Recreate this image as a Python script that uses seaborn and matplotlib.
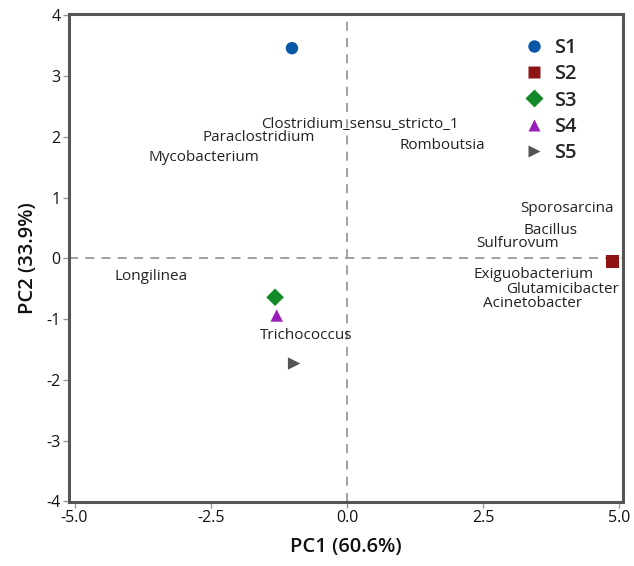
import matplotlib
matplotlib.use("Agg")
import matplotlib.pyplot as plt
import seaborn as sns
import pandas as pd

samples = ["S1", "S2", "S3", "S4", "S5"]
pc1 = [-1.01, 4.87, -1.32, -1.29, -0.97]
pc2 = [3.46, -0.05, -0.64, -0.94, -1.73]

genera = ["Clostridium_sensu_stricto_1", "Paraclostridium", "Mycobacterium", "Romboutsia",
          "Sporosarcina", "Bacillus", "Sulfurovum", "Exiguobacterium", "Glutamicibacter",
          "Acinetobacter", "Longilinea", "Trichococcus"]
genus_x = [-1.58, -2.65, -3.64, 0.96, 3.18, 3.24, 2.37, 2.32, 2.92, 2.50, -4.26, -1.60]
genus_y = [2.20, 1.99, 1.66, 1.86, 0.82, 0.46, 0.25, -0.26, -0.51, -0.74, -0.30, -1.27]

xticks = [-5.0, -2.5, 0.0, 2.5, 5.0]
yticks = [-4, -3, -2, -1, 0, 1, 2, 3, 4]

colors = ["#0B57A8", "#8F1414", "#138A28", "#9A1EB8", "#555555"]
markers = ["o", "s", "D", "^", ">"]

sns.set_style("white")
plt.rcParams["font.family"] = ["Open Sans", "DejaVu Sans"]
plt.rcParams["axes.unicode_minus"] = False

df = pd.DataFrame({"PC1": pc1, "PC2": pc2, "Sample": samples})

fig = plt.figure(figsize=(6.34, 5.66), dpi=100)
ax = fig.add_axes([0.109, 0.113, 0.874, 0.862])

ax.axhline(0, color="#999999", ls=(0, (5, 4)), lw=1.3, zorder=0)
ax.axvline(0, color="#999999", ls=(0, (5, 4)), lw=1.3, zorder=0)

sns.scatterplot(data=df, x="PC1", y="PC2", hue="Sample", style="Sample",
                palette=dict(zip(samples, colors)), markers=dict(zip(samples, markers)),
                s=80, edgecolor="none", ax=ax, zorder=3)

for g, gx, gy in zip(genera, genus_x, genus_y):
    ax.text(gx, gy, g, fontsize=11, ha="left", va="center", color="#222222")

ax.set_xlim(-5.1, 5.07)
ax.set_ylim(-4.01, 4.02)
ax.set_xticks(xticks)
ax.set_xticklabels([f"{v:.1f}" for v in xticks])
ax.set_yticks(yticks)
ax.tick_params(axis="both", which="both", length=4, width=1, color="#999999",
               labelsize=11.5, labelcolor="#111111", direction="out", bottom=True, left=True, pad=2)

for sp in ax.spines.values():
    sp.set_color("#555555")
    sp.set_linewidth(2.2)

ax.set_xlabel("PC1 (60.6%)", fontsize=14.5, fontweight="semibold", labelpad=8, color="#111111")
ax.set_ylabel("PC2 (33.9%)", fontsize=14.5, fontweight="semibold", labelpad=6, color="#111111")

leg = ax.legend(loc="upper left", bbox_to_anchor=(0.789, 0.989), frameon=False,
                markerscale=1.0, handlelength=1.0, handletextpad=0.45, labelspacing=0.32,
                prop={"size": 14.5, "weight": "semibold"}, title=None)

fig.savefig("out.png", dpi=100)
